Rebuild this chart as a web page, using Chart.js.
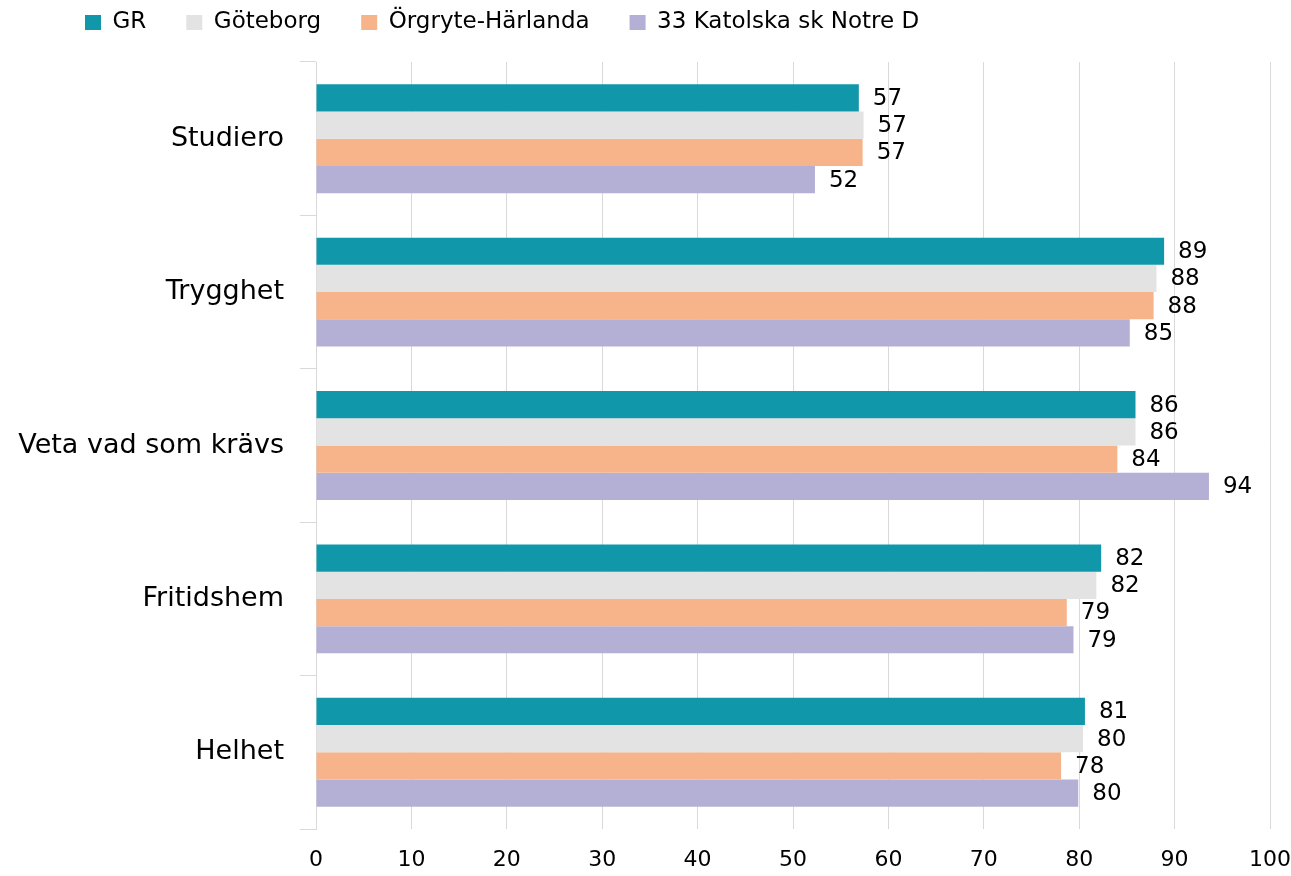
<!DOCTYPE html>
<html lang="sv">
<head>
  <meta charset="UTF-8" />
  <title>Enkät – jämförelse</title>
  <script src="https://cdn.jsdelivr.net/npm/chart.js"></script>
  <style>
    html, body { margin: 0; padding: 0; background: #fff; }
    #wrap { width: 1291px; height: 876px; }
  </style>
</head>
<body>
  <div id="wrap"><canvas id="barChart"></canvas></div>

  <script>
    // data
    const categories = ["Studiero", "Trygghet", "Veta vad som krävs", "Fritidshem", "Helhet"];
    const seriesNames = ["GR", "Göteborg", "Örgryte-Härlanda", "33 Katolska sk Notre D"];
    const grValues = [56.9, 88.9, 85.9, 82.3, 80.6];
    const gbgValues = [57.4, 88.1, 85.9, 81.8, 80.4];
    const orgValues = [57.3, 87.8, 84.0, 78.7, 78.1];
    const katValues = [52.3, 85.3, 93.6, 79.4, 79.9];
    const xTicks = [0, 10, 20, 30, 40, 50, 60, 70, 80, 90, 100];

    const colors = ["#1097a9", "#e3e3e3", "#f7b48b", "#b3afd5"];
    const FONT = "'DejaVu Sans', sans-serif";

    // value labels to the right of each bar
    const valueLabels = {
      id: "valueLabels",
      afterDatasetsDraw(chart) {
        const ctx = chart.ctx;
        ctx.save();
        ctx.font = "23px " + FONT;
        ctx.fillStyle = "#000";
        ctx.textAlign = "left";
        ctx.textBaseline = "middle";
        chart.data.datasets.forEach((ds, i) => {
          chart.getDatasetMeta(i).data.forEach((bar, j) => {
            ctx.fillText(Math.round(ds.data[j]), bar.x + 14, bar.y + 1);
          });
        });
        ctx.restore();
      }
    };

    // legend: fixed height, and moved a bit right like the original
    const legendPlace = {
      id: "legendPlace",
      beforeLayout(chart) {
        const lg = chart.legend;
        if (!lg || lg._patched) return;
        const fit = lg.fit;
        lg.fit = function () {
          fit.call(this);
          this.height = 91;
        };
        lg._patched = true;
      },
      afterLayout(chart) {
        chart.legend.left += 45;
        chart.legend.right += 45;
      }
    };

    const datasets = [grValues, gbgValues, orgValues, katValues].map((vals, i) => ({
      label: seriesNames[i],
      data: vals,
      backgroundColor: colors[i],
      borderWidth: 0,
      categoryPercentage: 0.71,
      barPercentage: 1.0
    }));

    new Chart(document.getElementById("barChart"), {
      type: "bar",
      data: { labels: categories, datasets: datasets },
      options: {
        indexAxis: "y",
        responsive: true,
        maintainAspectRatio: false,
        animation: false,
        layout: { padding: { left: 0, right: 0, top: -29, bottom: 0 } },
        plugins: {
          legend: {
            position: "top",
            align: "start",
            labels: {
              boxWidth: 16,
              boxHeight: 15,
              padding: 40,
              color: "#000",
              font: { family: FONT, size: 23 }
            }
          },
          tooltip: { enabled: false }
        },
        scales: {
          x: {
            min: 0,
            max: 100,
            afterBuildTicks(scale) {
              scale.ticks = xTicks.map(v => ({ value: v }));
            },
            afterFit(scale) { scale.height = 47; },
            grid: { color: "#d9d9d9", lineWidth: 1, tickLength: 18, tickColor: "rgba(0,0,0,0)" },
            border: { display: false },
            ticks: {
              color: "#000",
              padding: 0,
              font: { family: FONT, size: 22 }
            }
          },
          y: {
            afterFit(scale) { scale.width = 316; },
            grid: { drawOnChartArea: false, color: "#d9d9d9", tickLength: 16 },
            border: { display: true, color: "#d9d9d9" },
            ticks: {
              color: "#000",
              padding: 16,
              font: { family: FONT, size: 27 }
            }
          }
        }
      },
      plugins: [valueLabels, legendPlace]
    });
  </script>
</body>
</html>
